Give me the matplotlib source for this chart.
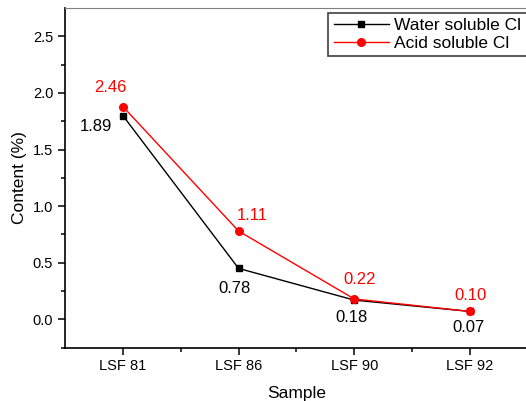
import numpy as np
import matplotlib.pyplot as plt

plt.rcParams['font.family'] = ['Liberation Sans', 'DejaVu Sans']

samples = ['LSF 81', 'LSF 86', 'LSF 90', 'LSF 92']
water = [1.80, 0.45, 0.17, 0.07]
acid = [1.88, 0.78, 0.18, 0.07]
water_labels = ['1.89', '0.78', '0.18', '0.07']
acid_labels = ['2.46', '1.11', '0.22', '0.10']

# label offsets in pixels (dx, dy)
water_off = [(-27, -11), (-4, -20), (-3, -17), (-2, -16)]
acid_off = [(-13, 19), (14, 16), (5, 19), (0, 16)]

fig = plt.figure(figsize=(5.26, 4.01), dpi=100)
ax = fig.add_axes([0.1236, 0.133, 0.880, 0.847])

x = np.arange(len(samples))
ax.plot(x, water, color='black', lw=1, marker='s', ms=4.5, label='Water soluble Cl')
ax.plot(x, acid, color='red', lw=1, marker='o', ms=5.5, label='Acid soluble Cl')

for i in range(len(samples)):
    ax.annotate(water_labels[i], (x[i], water[i]), xytext=water_off[i],
                textcoords='offset pixels', ha='center', va='center',
                fontsize=12, color='black')
    ax.annotate(acid_labels[i], (x[i], acid[i]), xytext=acid_off[i],
                textcoords='offset pixels', ha='center', va='center',
                fontsize=12, color='red')

ax.set_xlim(-0.5, 3.5)
ax.set_ylim(-0.25, 2.75)
ax.set_xticks(x)
ax.set_xticklabels(samples)
ax.set_xticks(x + 0.5, minor=True)
ax.set_yticks(np.arange(0, 2.51, 0.5))
ax.set_yticks(np.arange(-0.25, 2.75, 0.5), minor=True)
ax.set_yticklabels(['%.1f' % v for v in np.arange(0, 2.51, 0.5)])
ax.tick_params(direction='out', labelsize=10.5, length=5, width=1.1)
ax.tick_params(which='minor', direction='out', length=3, width=1.1)
for s in ['left', 'bottom']:
    ax.spines[s].set_linewidth(1.2)
ax.spines['top'].set_color('#808080')
ax.spines['right'].set_visible(False)

ax.set_xlabel('Sample', fontsize=12.5, labelpad=9)
ax.set_ylabel('Content (%)', fontsize=12.5)

leg = ax.legend(loc='upper right', bbox_to_anchor=(0.997, 0.985), fontsize=12.5,
                fancybox=False, edgecolor='#404040', framealpha=1,
                borderpad=0.3, handlelength=3.2, labelspacing=0.15,
                handletextpad=0.3, borderaxespad=0)
leg.get_frame().set_linewidth(1.2)

plt.savefig('out.png', dpi=100)
